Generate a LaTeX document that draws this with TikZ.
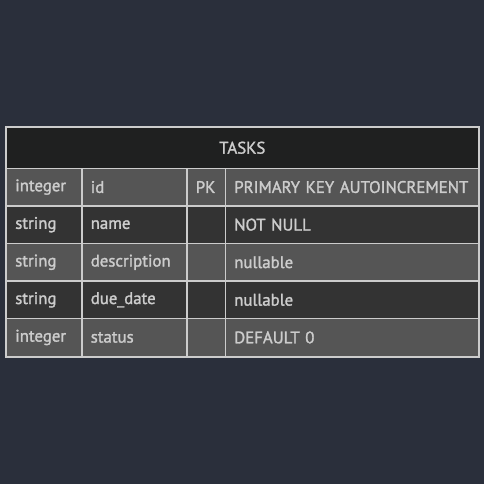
\documentclass[tikz,border=0pt]{standalone}
\usepackage{fontspec}
\setmainfont[FakeBold=1.6]{PT Sans}
\definecolor{bgc}{HTML}{2A2F3B}
\definecolor{titlec}{HTML}{1F2020}
\definecolor{oddc}{HTML}{555555}
\definecolor{evenc}{HTML}{333333}
\definecolor{bordc}{HTML}{CCCCCC}
\definecolor{textc}{HTML}{CCCCCC}
\begin{document}
\begin{tikzpicture}[x=1pt,y=-1pt,
  cell/.style={draw=bordc, line width=1.5pt, inner xsep=9pt, inner ysep=0pt,
    minimum height=37.6pt, text=textc, font=\fontsize{16.8}{19}\selectfont,
    anchor=north west, align=left},
  ctype/.style={cell, text width=57.5pt},
  cname/.style={cell, text width=87pt},
  ckey/.style={cell, text width=20.5pt},
  ccons/.style={cell, text width=235pt},
  oddrow/.style={fill=oddc},
  evenrow/.style={fill=evenc},
  titlebox/.style={draw=bordc, line width=1.5pt, fill=titlec, text=textc,
    font=\fontsize{16.8}{19}\selectfont, anchor=north west, inner sep=0pt,
    minimum width=472pt, minimum height=41pt}]
\fill[bgc] (0,0) rectangle (484,484);
\useasboundingbox (0,0) rectangle (484,484);
\node[titlebox] (title) at (5.5,126.5) {TASKS};
% row 1
\node[ctype,oddrow] (t1) at (5.5,167.5) {integer};
\node[cname,oddrow] (n1) at (81,167.5) {id};
\node[ckey,oddrow] (k1) at (186,167.5) {PK};
\node[ccons,oddrow] (c1) at (224.5,167.5) {PRIMARY KEY AUTOINCREMENT};
% row 2
\node[ctype,evenrow] (t2) at (5.5,205.1) {string};
\node[cname,evenrow] (n2) at (81,205.1) {name};
\node[ckey,evenrow] (k2) at (186,205.1) {};
\node[ccons,evenrow] (c2) at (224.5,205.1) {NOT NULL};
% row 3
\node[ctype,oddrow] (t3) at (5.5,242.7) {string};
\node[cname,oddrow] (n3) at (81,242.7) {description};
\node[ckey,oddrow] (k3) at (186,242.7) {};
\node[ccons,oddrow] (c3) at (224.5,242.7) {nullable};
% row 4
\node[ctype,evenrow] (t4) at (5.5,280.3) {string};
\node[cname,evenrow] (n4) at (81,280.3) {due\_date};
\node[ckey,evenrow] (k4) at (186,280.3) {};
\node[ccons,evenrow] (c4) at (224.5,280.3) {nullable};
% row 5
\node[ctype,oddrow] (t5) at (5.5,317.9) {integer};
\node[cname,oddrow] (n5) at (81,317.9) {status};
\node[ckey,oddrow] (k5) at (186,317.9) {};
\node[ccons,oddrow] (c5) at (224.5,317.9) {DEFAULT 0};
\draw[bordc, line width=2pt] (title.north west) rectangle (c5.south east);
\end{tikzpicture}
\end{document}
